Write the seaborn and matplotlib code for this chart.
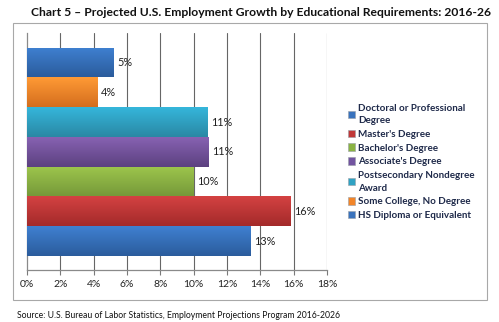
import textwrap
import numpy as np
import pandas as pd
import seaborn as sns
import matplotlib
matplotlib.use("Agg")
import matplotlib.pyplot as plt
from matplotlib.colors import to_rgb
from matplotlib.patches import Rectangle, Patch

# ---- data ----
categories = ["Doctoral or Professional Degree", "Master's Degree", "Bachelor's Degree",
              "Associate's Degree", "Postsecondary Nondegree Award",
              "Some College, No Degree", "HS Diploma or Equivalent"]
growth = [13.4, 15.8, 10.0, 10.9, 10.8, 4.2, 5.2]
x_ticks = [0, 2, 4, 6, 8, 10, 12, 14, 16, 18]
title = "Chart 5 \u2013 Projected U.S. Employment Growth by Educational Requirements: 2016-26"
source = "Source: U.S. Bureau of Labor Statistics, Employment Projections Program 2016-2026"

# style colours (top / bottom of gradient)
top_colors = ["#3f80d1", "#d44242", "#9dc64c", "#8762b2", "#35b6db", "#ff9a35", "#3f80d1"]
bot_colors = ["#2b5c9c", "#a32a2a", "#76993a", "#5c4180", "#2a88a4", "#d46e1e", "#2b5c9c"]
base_colors = ["#3a73bd", "#c03838", "#8ab343", "#7254a0", "#30a2c3", "#f28529", "#3a73bd"]

df = pd.DataFrame({"category": categories, "growth": growth})
# drawing order top-to-bottom is the reverse of the legend order
order = categories[::-1]

sns.set_theme(style="white")
plt.rcParams["font.family"] = ["Lato", "DejaVu Sans"]

fig = plt.figure(figsize=(4.99, 3.22), dpi=100)
W, H = 499, 322
ax = fig.add_axes([27 / W, (H - 270) / H, 300 / W, 237 / H])

pal = dict(zip(categories, base_colors))
sns.barplot(data=df, x="growth", y="category", hue="category", order=order,
            hue_order=order, palette=pal, dodge=False, width=1.0, orient="h",
            legend=False, ax=ax, saturation=1, zorder=3)

# gradient fill on each bar
topc = dict(zip(categories, top_colors))
botc = dict(zip(categories, bot_colors))
for patch, cat in zip(ax.patches, order):
    x0, y0 = patch.get_x(), patch.get_y()
    w, h = patch.get_width(), patch.get_height()
    t = np.array(to_rgb(topc[cat]))
    b = np.array(to_rgb(botc[cat]))
    n = 64
    grad = np.linspace(0, 1, n)[:, None, None] * (b - t) + t
    grad = np.repeat(grad, 2, axis=1)
    im = ax.imshow(grad, extent=[x0, x0 + w, y0 + h, y0], aspect="auto",
                   zorder=3.5, interpolation="bilinear")
    im.set_clip_path(patch)
    patch.set_edgecolor("none")

# data labels
for patch in ax.patches:
    v = patch.get_width()
    ax.text(v + 0.22, patch.get_y() + patch.get_height() / 2, f"{v:.0f}%",
            va="center", ha="left", fontsize=7.8, color="#222222", zorder=5)

ax.set_xlim(0, 18)
ax.set_ylim(6.5 + 0.47, -0.5 - 0.49)
ax.set_xticks(x_ticks)
ax.set_xticklabels([f"{t}%" for t in x_ticks], fontsize=7.5, color="#222222")
ax.set_yticks([])
ax.set_xlabel("")
ax.set_ylabel("")
for t in x_ticks[1:]:
    ax.axvline(t, color="#666666", lw=0.8, zorder=1)
for s in ["top", "right"]:
    ax.spines[s].set_visible(False)
for s in ["left", "bottom"]:
    ax.spines[s].set_color("#8a8a8a")
    ax.spines[s].set_linewidth(0.9)
ax.tick_params(axis="x", direction="out", length=3.5, width=0.8, color="#7a7a7a", pad=4,
               bottom=True)

# legend
handles = [Patch(facecolor=c, edgecolor="#9aa0a8", linewidth=0.4) for c in base_colors]
labels = ["\n".join(textwrap.wrap(c, 24)) for c in categories]
leg = fig.legend(handles, labels, loc="upper left", bbox_to_anchor=(347.5 / W, 1 - 103.5 / H),
                 frameon=False, fontsize=7.1, handlelength=0.8, handleheight=0.8,
                 handletextpad=0.3, labelspacing=0.45, borderaxespad=0, borderpad=0)
for txt in leg.get_texts():
    txt.set_fontweight("bold")
    txt.set_color("#1f2a4a")
    txt.set_linespacing(1.55)

# outer frame
fig.patches.append(Rectangle((13 / W, 1 - 300 / H), 474 / W, 277 / H, transform=fig.transFigure,
                             fill=False, edgecolor="#a8a8a8", lw=0.8))

fig.text(261 / W, 1 - 12 / H, title, ha="center", va="center", fontsize=8.7,
         fontweight="bold", color="#111111")
fig.text(17 / W, 1 - 315 / H, source, ha="left", va="center", fontsize=6.2, color="#111111")

fig.savefig("out.png", dpi=100)
